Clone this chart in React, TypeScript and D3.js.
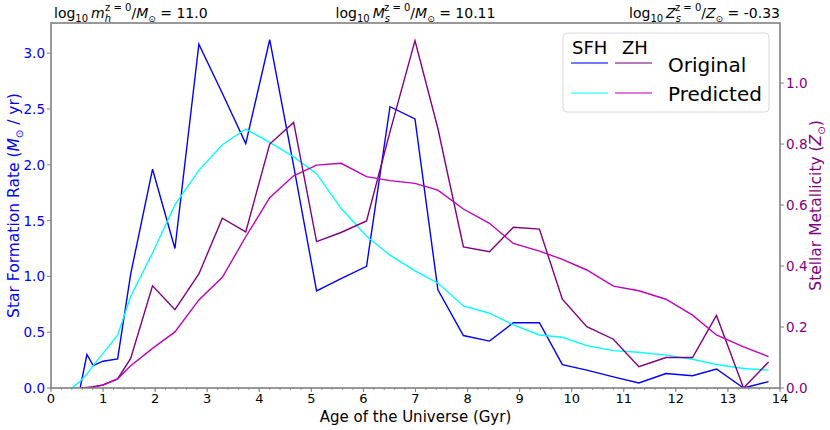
import React, { useEffect, useRef } from 'react';
import * as d3 from 'd3';

// Age of the Universe (Gyr) at which every history is sampled
const ages = [0.40, 0.56, 0.69, 0.81, 1.00, 1.28, 1.53, 1.95, 2.38, 2.84, 3.29, 3.74, 4.20, 4.66, 5.10, 5.57, 6.06,
  6.51, 6.99, 7.43, 7.92, 8.42, 8.88, 9.38, 9.82, 10.29, 10.80, 11.29, 11.81, 12.32, 12.78, 13.30, 13.78];

// star formation rate (Msun / yr)
const sfhOriginal = [null, 0, 0.30, 0.20, 0.24, 0.26, 1.02, 1.96, 1.25, 3.08, 2.64, 2.19, 3.12, 1.99, 0.87, 0.98, 1.09,
  2.52, 2.41, 0.88, 0.47, 0.42, 0.585, 0.585, 0.21, 0.16, 0.10, 0.045, 0.13, 0.11, 0.17, 0.0, 0.057];
const sfhPredicted = [0, 0.06, 0.125, 0.20, 0.31, 0.475, 0.82, 1.21, 1.64, 1.95, 2.18, 2.32, 2.20, 2.07, 1.92, 1.61, 1.36,
  1.19, 1.05, 0.94, 0.735, 0.67, 0.565, 0.475, 0.455, 0.38, 0.335, 0.32, 0.295, 0.257, 0.21, 0.175, 0.16];

// stellar metallicity (Zsun)
const zhOriginal = [null, 0, 0.002, 0.004, 0.01, 0.03, 0.097, 0.335, 0.257, 0.374, 0.557, 0.512, 0.80, 0.871, 0.48, 0.51, 0.548,
  0.84, 1.139, 0.851, 0.463, 0.447, 0.527, 0.521, 0.291, 0.201, 0.16, 0.07, 0.10, 0.10, 0.238, 0.0, 0.085];
const zhPredicted = [null, 0, 0.0, 0.002, 0.01, 0.03, 0.073, 0.13, 0.184, 0.289, 0.363, 0.496, 0.624, 0.696, 0.731, 0.737, 0.693,
  0.68, 0.671, 0.649, 0.587, 0.54, 0.474, 0.449, 0.422, 0.387, 0.334, 0.319, 0.291, 0.239, 0.174, 0.135, 0.103];

const xTicks = d3.range(0, 15, 1);
const sfrTicks = [0, 0.5, 1.0, 1.5, 2.0, 2.5, 3.0];
const zTicks = [0, 0.2, 0.4, 0.6, 0.8, 1.0];

const FONT = '"DejaVu Sans", sans-serif';
const BLUE = '#0000ff';
const CYAN = '#00ffff';
const PURPLE = '#800080';
const MAGENTA = '#bf00bf';

type Seg = { t: string; dy?: number; dx?: number; size?: number; italic?: boolean };

// little helper for the mathtext-ish titles
function mathText(sel: d3.Selection<SVGTextElement, unknown, null, undefined>, segs: Seg[]) {
  segs.forEach(s => {
    const ts = sel.append('tspan').text(s.t);
    if (s.dy) ts.attr('dy', s.dy);
    if (s.dx) ts.attr('dx', s.dx);
    if (s.size) ts.attr('font-size', s.size);
    if (s.italic) ts.attr('font-style', 'italic');
  });
}

function titleSegs(sym: string, sub: string, unit: string, value: string): Seg[] {
  return [
    { t: 'log' },
    { t: '10', size: 10, dy: 4 },
    { t: sym, italic: true, dy: -4, dx: 3 },
    { t: sub, italic: true, size: 10, dy: 4 },
    { t: 'z = 0', size: 10, dy: -11, dx: -6 },
    { t: '/', dy: 7 },
    { t: unit, italic: true },
    { t: '⊙', size: 9, dy: 4 },
    { t: ' = ' + value, dy: -4 },
  ];
}

export default function App() {
  const svgRef = useRef<SVGSVGElement>(null);

  useEffect(() => {
    if (!svgRef.current) return;
    const svg = d3.select(svgRef.current);
    svg.selectAll('*').remove();

    const margin = { top: 23, right: 50, bottom: 42, left: 51 };
    const width = 830;
    const height = 430;

    const x = d3.scaleLinear().domain([0, 14]).range([margin.left, width - margin.right]);
    const yL = d3.scaleLinear().domain([0, 3.27]).range([height - margin.bottom, margin.top]);
    const yR = d3.scaleLinear().domain([0, 1.197]).range([height - margin.bottom, margin.top]);
    const x0 = x(0), x1 = x(14), yb = yL(0), yt = yL(3.27);

    svg.append('defs').append('clipPath').attr('id', 'plot')
      .append('rect').attr('x', x0).attr('y', yt).attr('width', x1 - x0).attr('height', yb - yt);

    const drawLine = (vals: (number | null)[], y: d3.ScaleLinear<number, number>, color: string) => {
      const pts = ages.map((a, i) => [a, vals[i]] as [number, number | null]);
      const line = d3.line<[number, number | null]>()
        .defined(d => d[1] !== null)
        .x(d => x(d[0]))
        .y(d => y(d[1] as number));
      svg.append('path')
        .attr('d', line(pts))
        .attr('fill', 'none')
        .attr('stroke', color)
        .attr('stroke-width', 1.4)
        .attr('stroke-linejoin', 'miter')
        .attr('clip-path', 'url(#plot)');
    };

    drawLine(sfhOriginal, yL, BLUE);
    drawLine(sfhPredicted, yL, CYAN);
    drawLine(zhOriginal, yR, PURPLE);
    drawLine(zhPredicted, yR, MAGENTA);

    // frame
    svg.append('rect')
      .attr('x', x0).attr('y', yt).attr('width', x1 - x0).attr('height', yb - yt)
      .attr('fill', 'none').attr('stroke', '#808080').attr('stroke-width', 1.6);

    // x ticks (major + minor)
    d3.range(0, 14.01, 0.2).forEach(v => {
      svg.append('line').attr('x1', x(v)).attr('x2', x(v)).attr('y1', yb).attr('y2', yb + 2)
        .attr('stroke', '#808080').attr('stroke-width', 0.8);
    });
    xTicks.forEach(v => {
      svg.append('line').attr('x1', x(v)).attr('x2', x(v)).attr('y1', yb).attr('y2', yb + 4)
        .attr('stroke', '#808080').attr('stroke-width', 1);
      svg.append('text').attr('x', x(v)).attr('y', 403).attr('text-anchor', 'middle')
        .attr('font-family', FONT).attr('font-size', 13).attr('fill', '#000').text(String(v));
    });

    sfrTicks.forEach(v => {
      svg.append('line').attr('x1', x0 - 4).attr('x2', x0).attr('y1', yL(v)).attr('y2', yL(v))
        .attr('stroke', '#808080').attr('stroke-width', 1);
      svg.append('text').attr('x', x0 - 6).attr('y', yL(v) + 5).attr('text-anchor', 'end')
        .attr('font-family', FONT).attr('font-size', 13.5).attr('fill', BLUE).text(v.toFixed(1));
    });

    zTicks.forEach(v => {
      svg.append('line').attr('x1', x1).attr('x2', x1 + 4).attr('y1', yR(v)).attr('y2', yR(v))
        .attr('stroke', '#808080').attr('stroke-width', 1);
      svg.append('text').attr('x', x1 + 6).attr('y', yR(v) + 5).attr('text-anchor', 'start')
        .attr('font-family', FONT).attr('font-size', 13.5).attr('fill', PURPLE).text(v.toFixed(1));
    });

    // axis labels
    svg.append('text').attr('x', (x0 + x1) / 2).attr('y', 422).attr('text-anchor', 'middle')
      .attr('font-family', FONT).attr('font-size', 15).attr('fill', '#000')
      .text('Age of the Universe (Gyr)');

    const yLab = svg.append('text').attr('transform', `translate(19,${(yt + yb) / 2}) rotate(-90)`)
      .attr('text-anchor', 'middle').attr('font-family', FONT).attr('font-size', 15.5).attr('fill', BLUE);
    mathText(yLab, [
      { t: 'Star Formation Rate (' },
      { t: 'M', italic: true },
      { t: '⊙', size: 10, dy: 4 },
      { t: ' / yr)', dy: -4 },
    ]);

    const yRLab = svg.append('text').attr('transform', `translate(821,${(yt + yb) / 2}) rotate(-90)`)
      .attr('text-anchor', 'middle').attr('font-family', FONT).attr('font-size', 15.5).attr('fill', PURPLE);
    mathText(yRLab, [
      { t: 'Stellar Metallicity (' },
      { t: 'Z', italic: true },
      { t: '⊙', size: 10, dy: 4 },
      { t: ')', dy: -4 },
    ]);

    // titles
    const tl = svg.append('text').attr('x', x0 + 3).attr('y', 18).attr('text-anchor', 'start')
      .attr('font-family', FONT).attr('font-size', 14).attr('fill', '#000');
    mathText(tl, titleSegs('m', 'h', 'M', '11.0'));
    const tc = svg.append('text').attr('x', (x0 + x1) / 2).attr('y', 18).attr('text-anchor', 'middle')
      .attr('font-family', FONT).attr('font-size', 14).attr('fill', '#000');
    mathText(tc, titleSegs('M', 's', 'M', '10.11'));
    const tr = svg.append('text').attr('x', x1).attr('y', 18).attr('text-anchor', 'end')
      .attr('font-family', FONT).attr('font-size', 14).attr('fill', '#000');
    mathText(tr, titleSegs('Z', 's', 'Z', '-0.33'));

    // legend
    const lg = svg.append('g');
    lg.append('rect').attr('x', 563).attr('y', 33).attr('width', 206).attr('height', 79).attr('rx', 4)
      .attr('fill', 'rgba(255,255,255,0.8)').attr('stroke', '#d8d8d8').attr('stroke-width', 1);
    lg.append('text').attr('x', 572).attr('y', 54).attr('font-family', FONT).attr('font-size', 18).text('SFH');
    lg.append('text').attr('x', 622).attr('y', 54).attr('font-family', FONT).attr('font-size', 18).text('ZH');
    const legendRows = [
      { label: 'Original', sfh: BLUE, zh: PURPLE, y: 63, ty: 71.5 },
      { label: 'Predicted', sfh: CYAN, zh: MAGENTA, y: 93, ty: 100.5 },
    ];
    legendRows.forEach(r => {
      lg.append('line').attr('x1', 571).attr('x2', 608).attr('y1', r.y).attr('y2', r.y)
        .attr('stroke', r.sfh).attr('stroke-width', 1.6).attr('opacity', 0.7);
      lg.append('line').attr('x1', 615).attr('x2', 652).attr('y1', r.y).attr('y2', r.y)
        .attr('stroke', r.zh).attr('stroke-width', 1.6).attr('opacity', 0.7);
      lg.append('text').attr('x', 668).attr('y', r.ty).attr('font-family', FONT).attr('font-size', 20).text(r.label);
    });
  }, []);

  return (
    <div style={{ position: 'absolute', left: 0, top: 0, width: 830, height: 430, background: '#fff' }}>
      <svg ref={svgRef} width={830} height={430} viewBox="0 0 830 430" />
    </div>
  );
}
